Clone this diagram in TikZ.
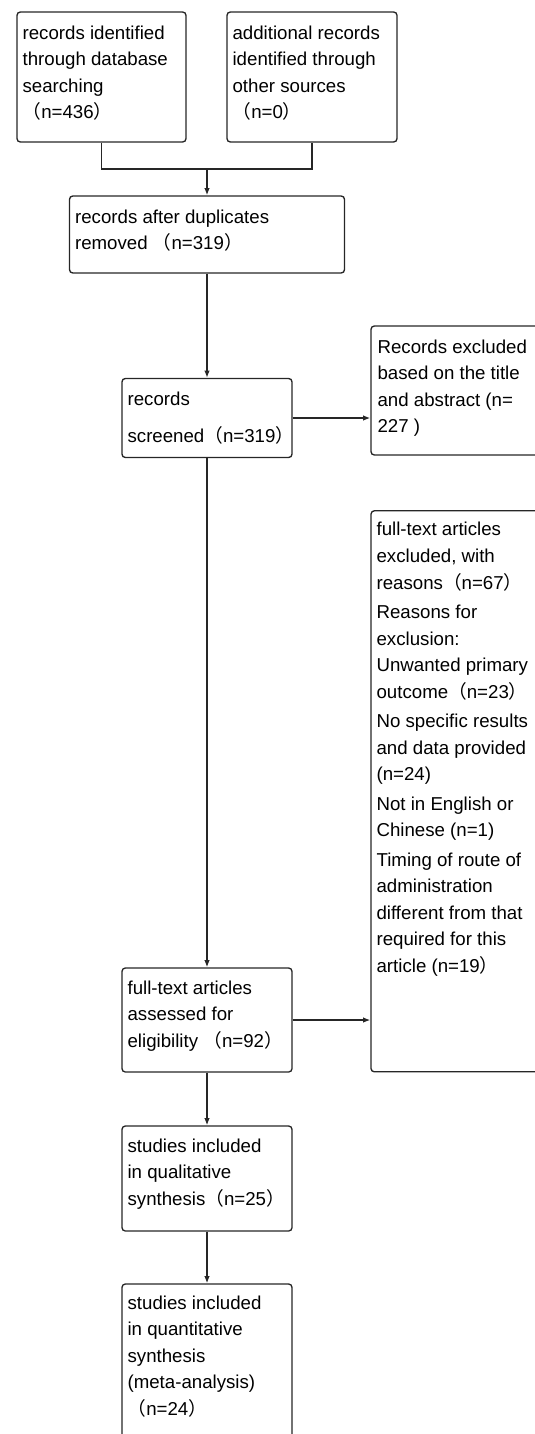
\documentclass[tikz,border=0pt]{standalone}
\usepackage{fontspec}
\setmainfont{Liberation Sans}
\newfontfamily\cjk{Noto Sans CJK SC}
\usepackage{tikz}
\usetikzlibrary{positioning,arrows.meta}
\tikzset{>={Latex[length=5.5pt,width=4.2pt]}}
\newdimen\pix
\pix=0.75pt
\newcommand{\flp}{{\cjk （}}
\newcommand{\frp}{{\cjk ）}}
\tikzset{
  box/.style={draw=black!85, line width=1pt, rounded corners=2.5pt, inner sep=0pt},
  boxtext/.style={anchor=north west, inner sep=0pt, align=left, font=\fontsize{14pt}{19.9pt}\selectfont},
  link/.style={draw=black!85, line width=1pt},
}

\begin{document}
\begin{tikzpicture}[x=0.75pt, y=-0.75pt]
    % Page frame (reference pixels, y pointing down)
    \useasboundingbox (0,0) rectangle (535,1434);
    \clip (0,0) rectangle (535,1434);

    % Identification
    \node[box, minimum width=169\pix, minimum height=130\pix] (ident) at (101.5,77) {};
    \node[boxtext] (ident-t) at ([shift={(6,14)}]ident.north west) {records identified\\through database\\searching\\\flp n=436\frp};

    \node[box, minimum width=170\pix, minimum height=130\pix] (other) at (312,77) {};
    \node[boxtext] (other-t) at ([shift={(6,14)}]other.north west) {additional records\\identified through\\other sources\\\flp n=0\frp};

    % Duplicates removed
    \node[box, minimum width=275\pix, minimum height=77\pix] (dedup) at (207,234.5) {};
    \node[boxtext] (dedup-t) at ([shift={(6,14)}]dedup.north west) {records after duplicates\\removed \flp n=319\frp};

    % Screening
    \node[box, minimum width=170\pix, minimum height=79\pix] (screen) at (207,418) {};
    \node[boxtext] (screen-t) at ([shift={(6,14)}]screen.north west) {records\\[10\pix]screened\flp n=319\frp};

    \node[box, minimum width=175\pix, minimum height=129\pix] (excl) at (458.5,390.5) {};
    \node[boxtext] (excl-t) at ([shift={(7,14)}]excl.north west) {Records excluded\\based on the title\\and abstract (n=\\227 )};

    % Eligibility
    \node[box, minimum width=170\pix, minimum height=104\pix] (elig) at (207,1020) {};
    \node[boxtext] (elig-t) at ([shift={(6,13)}]elig.north west) {full-text articles\\assessed for\\eligibility \flp n=92\frp};

    \node[box, minimum width=175\pix, minimum height=561\pix] (ftexcl) at (458.5,791.3) {};
    \node[boxtext] (ftexcl-t) at ([shift={(6,12)}]ftexcl.north west) {full-text articles\\excluded, with\\reasons\flp n=67\frp\\[3\pix]
        Reasons for\\exclusion:\\Unwanted primary\\outcome\flp n=23\frp\\[3\pix]
        No specific results\\and data provided\\(n=24)\\[3\pix]
        Not in English or\\Chinese (n=1)\\[3\pix]
        Timing of route of\\administration\\different from that\\required for this\\article (n=19\frp};

    % Included
    \node[box, minimum width=170\pix, minimum height=105\pix] (qual) at (207,1178.5) {};
    \node[boxtext] (qual-t) at ([shift={(6,13)}]qual.north west) {studies included\\in qualitative\\synthesis\flp n=25\frp};

    \node[box, minimum width=170\pix, minimum height=160\pix] (quant) at (207,1364) {};
    \node[boxtext] (quant-t) at ([shift={(6,12)}]quant.north west) {studies included\\in quantitative\\synthesis\\(meta-analysis)\\\flp n=24\frp};

    % Connectors
    \coordinate (join) at (207,169);
    \draw[link] (ident.south) |- (join) -| (other.south);
    \draw[link,->] (join) -- (dedup.north);
    \draw[link,->] (dedup.south) -- (screen.north);
    \draw[link,->] (screen.east) -- (screen.east -| excl.west);
    \draw[link,->] (screen.south) -- (elig.north);
    \draw[link,->] (elig.east) -- (elig.east -| ftexcl.west);
    \draw[link,->] (elig.south) -- (qual.north);
    \draw[link,->] (qual.south) -- (quant.north);

\end{tikzpicture}
\end{document}
